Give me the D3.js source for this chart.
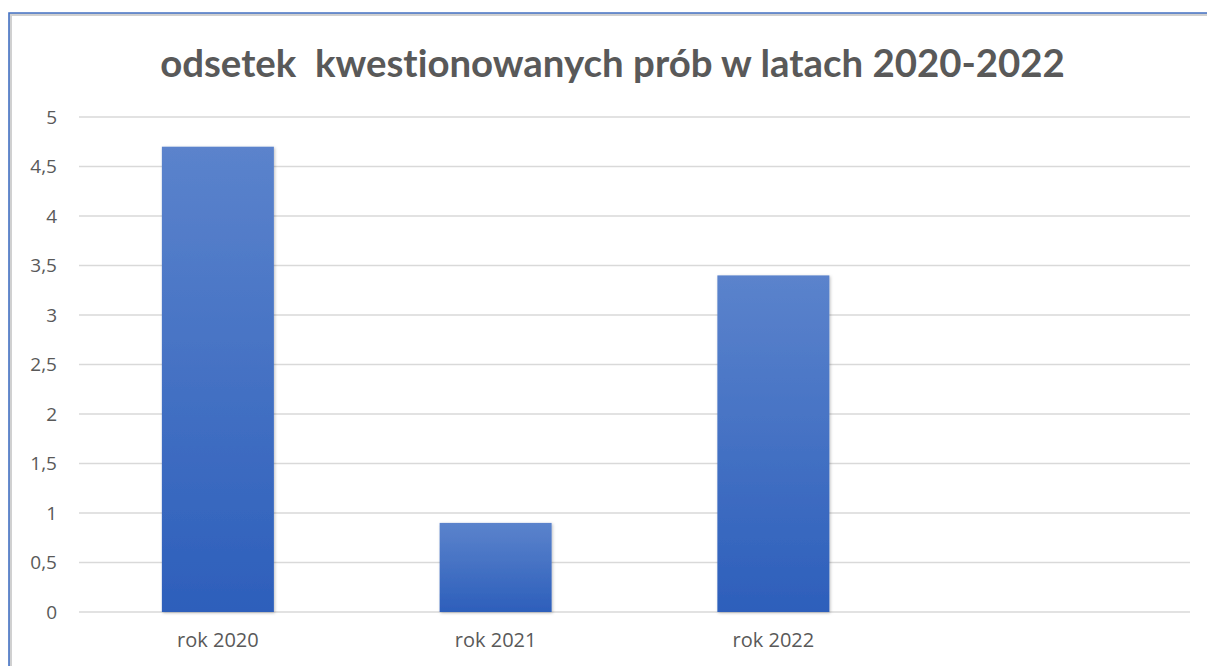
<!DOCTYPE html>
<html><head><meta charset="utf-8">
<script src="https://cdn.jsdelivr.net/npm/d3@7"></script>
<style>html,body{margin:0;padding:0;background:#fff;}svg{display:block;}text{font-variant-ligatures:none;}</style>
</head><body>
<svg id="chart" width="1207" height="666"></svg>
<script>
const categories = ["rok 2020", "rok 2021", "rok 2022", ""];
const values = [4.7, 0.9, 3.4, null];
const yTicks = [0, 0.5, 1, 1.5, 2, 2.5, 3, 3.5, 4, 4.5, 5];
const title = "odsetek\u00A0 kwestionowanych prób w latach 2020-2022";

const svg = d3.select("#chart");
const W = 1207, H = 666;
const m = {left: 79, right: 17, top: 117, bottom: 54};

const defs = svg.append("defs");
const grad = defs.append("linearGradient").attr("id","barGrad").attr("x1",0).attr("y1",0).attr("x2",0).attr("y2",1);
grad.append("stop").attr("offset","0%").attr("stop-color","#5b83cc");
grad.append("stop").attr("offset","100%").attr("stop-color","#2d5fbb");
const f = defs.append("filter").attr("id","shadow").attr("x","-10%").attr("y","-10%").attr("width","130%").attr("height","130%");
f.append("feDropShadow").attr("dx",1).attr("dy",1).attr("stdDeviation",1.5).attr("flood-color","#000").attr("flood-opacity",0.25);

svg.append("rect").attr("x",0).attr("y",0).attr("width",W).attr("height",H).attr("fill","#fff");
svg.append("path").attr("d",`M9.5,${H} V13.5 H${W}`).attr("fill","none").attr("stroke","#d0d0d0").attr("stroke-width",3).attr("transform","translate(1,1)");
svg.append("path").attr("d",`M9,${H} V13 H${W}`).attr("fill","none").attr("stroke","#4472c4").attr("stroke-width",1.6);

const y = d3.scaleLinear().domain([0,5]).range([H - m.bottom, m.top]);
const band = d3.scaleBand().domain(categories.map((c,i)=>i)).range([m.left, W - m.right]);

// gridlines
svg.append("g").selectAll("line").data(yTicks).join("line")
  .attr("x1", m.left).attr("x2", W - m.right)
  .attr("y1", d=>y(d)).attr("y2", d=>y(d))
  .attr("stroke","#d9d9d9").attr("stroke-width",1.6);

// y axis labels
const fmt = d => String(d).replace(".", ",");
const yAxis = svg.append("g").attr("transform",`translate(${m.left-22},0)`)
  .call(d3.axisLeft(y).tickValues(yTicks).tickFormat(fmt).tickSize(0).tickPadding(0));
yAxis.select(".domain").remove();
yAxis.selectAll("text").attr("font-family","'Open Sans', sans-serif").attr("font-size",19).attr("fill","#595959");

// bars
const barW = 112;
svg.append("g").selectAll("rect").data(values.map((v,i)=>({v,i})).filter(d=>d.v!=null)).join("rect")
  .attr("x", d=>band(d.i) + band.bandwidth()/2 - barW/2)
  .attr("width", barW)
  .attr("y", d=>y(d.v))
  .attr("height", d=>y(0)-y(d.v))
  .attr("fill","url(#barGrad)")
  .attr("filter","url(#shadow)");

// x labels
const xAxis = svg.append("g").attr("transform",`translate(0,${y(0)+21})`)
  .call(d3.axisBottom(band).tickFormat(i=>categories[i]).tickSize(0).tickPadding(0));
xAxis.select(".domain").remove();
xAxis.selectAll("text").attr("font-family","'Open Sans', sans-serif").attr("font-size",20).attr("fill","#595959");

// title
const t = svg.append("text").attr("x", 612.5).attr("y", 77).attr("text-anchor","middle")
  .attr("font-family","Lato, 'Open Sans', sans-serif").attr("font-weight","bold").attr("font-size",36)
  .style("font-variant-ligatures","none")
  .attr("fill","#595959").text(title);
const w = t.node().getComputedTextLength();
t.attr("font-size", 36 * 905 / w);
</script>
</body></html>
